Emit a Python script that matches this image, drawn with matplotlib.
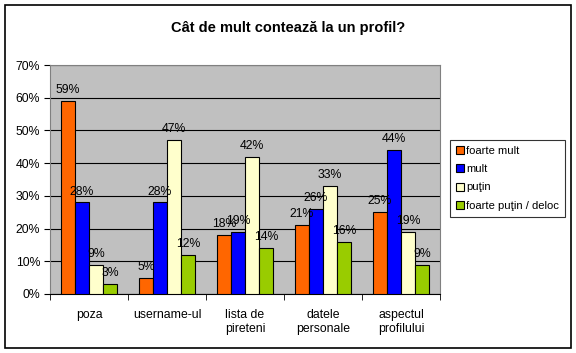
import matplotlib
matplotlib.use("Agg")
import matplotlib.pyplot as plt
import numpy as np
from matplotlib.patches import Rectangle

plt.rcParams['font.family'] = ['Liberation Sans', 'DejaVu Sans']

categories = ["poza", "username-ul", "lista de\npireteni", "datele\npersonale", "aspectul\nprofilului"]
series_names = ["foarte mult", "mult", "puţin", "foarte puţin / deloc"]
foarte_mult = [59, 5, 18, 21, 25]
mult = [28, 28, 19, 26, 44]
putin = [9, 47, 42, 33, 19]
foarte_putin = [3, 12, 14, 16, 9]
series = [foarte_mult, mult, putin, foarte_putin]
colors = ["#FF6600", "#0000FF", "#FFFFCC", "#99CC00"]
yticks = [0, 10, 20, 30, 40, 50, 60, 70]

FS = 8.8

fig = plt.figure(figsize=(5.76, 3.53), dpi=100)
fig.patch.set_facecolor("white")
fig.patches.append(Rectangle((0.008, 0.014), 0.984, 0.972, transform=fig.transFigure,
                             fill=False, edgecolor="black", linewidth=1.2))

ax = fig.add_axes([50/576, 1-294/353, 390/576, 229/353])
ax.set_facecolor("#C0C0C0")
x = np.arange(len(categories))
w = 0.18
for i, (vals, c) in enumerate(zip(series, colors)):
    pos = x + (i - 1.5) * w
    ax.bar(pos, vals, width=w, color=c, edgecolor="black", linewidth=0.8,
           label=series_names[i], zorder=3)
    for p, v in zip(pos, vals):
        ax.annotate(f"{v}%", (p, v), xytext=(0, 3.5), textcoords="offset points",
                    ha="center", va="bottom", fontsize=FS, zorder=4)

ax.set_xlim(-0.5, len(categories) - 0.5)
ax.set_ylim(0, 70)
ax.set_yticks(yticks)
ax.set_yticklabels([f"{t}%" for t in yticks], fontsize=FS)
ax.yaxis.grid(True, color="black", linewidth=0.8, zorder=1)
ax.set_axisbelow(True)
ax.set_xticks(x)
ax.set_xticklabels(categories, fontsize=FS)
ax.tick_params(axis="x", length=0, pad=11)
ax.set_xticks(np.arange(-0.5, len(categories)), minor=True)
ax.tick_params(axis="x", which="minor", length=4, direction="out", color="black")
ax.tick_params(axis="y", length=4, direction="out", color="black", pad=3)
for s in ["top", "right"]:
    ax.spines[s].set_color("#808080")
    ax.spines[s].set_linewidth(0.8)
ax.spines["left"].set_color("#808080")
ax.spines["bottom"].set_color("black")

fig.text(288/576, 1-28/353, "Cât de mult contează la un profil?", ha="center", va="center",
         fontsize=10.5, fontweight="bold")

leg = fig.legend(loc="upper left", bbox_to_anchor=(450/576, 1-140/353), fontsize=8.1,
                 frameon=True, fancybox=False, edgecolor="black", handlelength=0.7,
                 handleheight=0.7, handletextpad=0.25, borderpad=0.5, labelspacing=0.75,
                 borderaxespad=0)
leg.get_frame().set_linewidth(0.8)

fig.savefig("out.png", dpi=100)
